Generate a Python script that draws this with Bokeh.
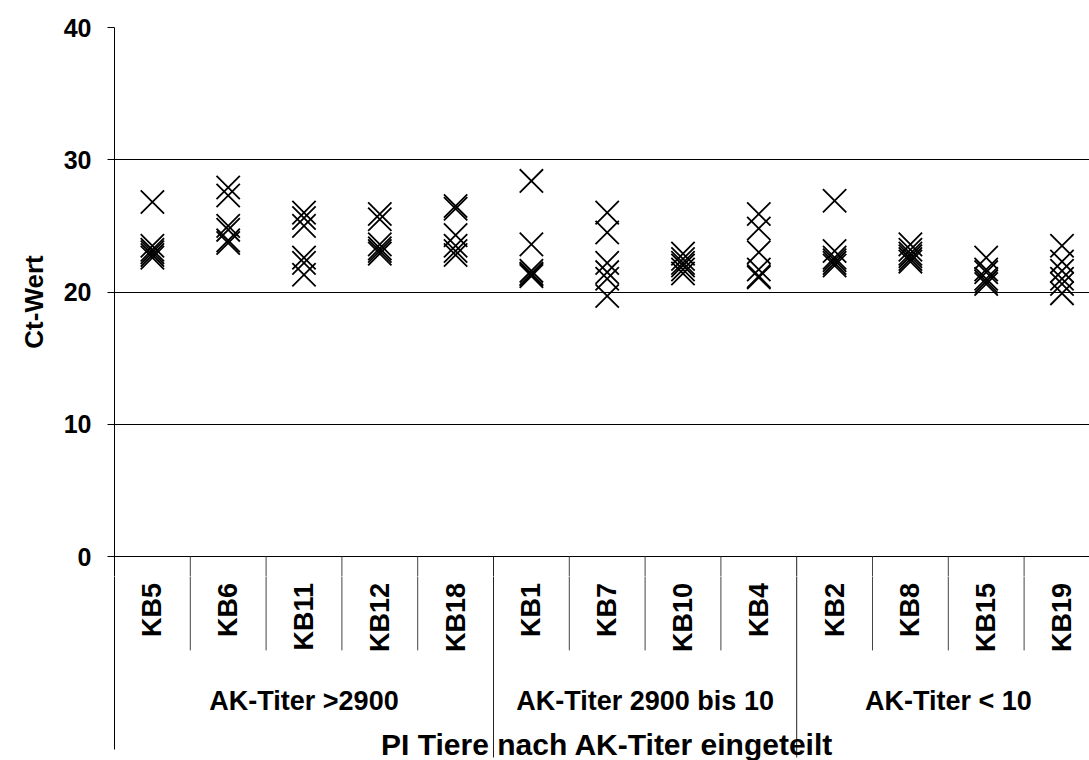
from bokeh.plotting import figure
from bokeh.layouts import column
from bokeh.models import Range1d, FixedTicker, ColumnDataSource
from bokeh.core.properties import value
from bokeh.embed import file_html
from bokeh.resources import INLINE

categories = ["KB5", "KB6", "KB11", "KB12", "KB18", "KB1", "KB7", "KB10", "KB4",
              "KB2", "KB8", "KB15", "KB19"]
groups = ["AK-Titer >2900", "AK-Titer 2900 bis 10", "AK-Titer < 10"]
group_sizes = [5, 4, 4]
y_ticks = [0, 10, 20, 30, 40]
x_title = "PI Tiere nach AK-Titer eingeteilt"
y_title = "Ct-Wert"

ct_KB5 = [26.8, 23.5, 23.2, 23.0, 22.8, 22.6]
ct_KB6 = [27.9, 27.3, 25.0, 24.7, 23.9, 23.7]
ct_KB11 = [26.0, 25.6, 25.0, 22.6, 22.2, 21.3]
ct_KB12 = [25.9, 25.5, 23.6, 23.3, 23.1, 22.9]
ct_KB18 = [26.5, 26.3, 24.3, 23.5, 23.1, 22.8]
ct_KB1 = [28.4, 23.6, 21.6, 21.4, 21.3, 21.2]
ct_KB7 = [26.0, 24.5, 22.2, 21.5, 21.0, 19.7]
ct_KB10 = [22.9, 22.5, 22.2, 22.0, 21.7, 21.4]
ct_KB4 = [25.9, 24.8, 23.0, 21.7, 21.2, 21.1]
ct_KB2 = [26.9, 23.1, 22.6, 22.4, 22.2, 22.0]
ct_KB8 = [23.6, 23.2, 22.9, 22.7, 22.5, 22.3]
ct_KB15 = [22.6, 21.7, 21.5, 21.0, 20.8, 20.6]
ct_KB19 = [23.5, 22.3, 21.6, 21.0, 20.6, 19.9]

values = [ct_KB5, ct_KB6, ct_KB11, ct_KB12, ct_KB18, ct_KB1, ct_KB7, ct_KB10,
          ct_KB4, ct_KB2, ct_KB8, ct_KB15, ct_KB19]

FONT = value("Liberation Sans")

xs, ys = [], []
for i, vals in enumerate(values):
    for v in vals:
        xs.append(i)
        ys.append(v)
src = ColumnDataSource(dict(x=xs, y=ys))

px_per_cat = 75.8
px_per_unit = 529 / 40.0
frame_w = 1089 - 114
x_range = Range1d(-0.5, -0.5 + frame_w / px_per_cat)

n = len(categories)
bounds = []
acc = 0
for s in group_sizes:
    acc += s
    bounds.append(acc)
short_x = [i + 0.5 for i in range(n - 1) if (i + 1) not in bounds]
long_x = [b - 0.5 for b in bounds[:-1]]


def draw_dividers(fig):
    fig.segment(x0=short_x, y0=[0] * len(short_x), x1=short_x,
                y1=[-7.1] * len(short_x), line_color="#444444", line_width=1)
    fig.segment(x0=long_x, y0=[0] * len(long_x), x1=long_x,
                y1=[-15.2] * len(long_x), line_color="#222222", line_width=1)


# ---------------- upper panel: values ----------------
top_h = 576
p = figure(width=1089, height=top_h, output_backend="svg", toolbar_location=None,
           x_range=x_range, y_range=Range1d(-(top_h - 556) / px_per_unit, 40),
           min_border_left=114, min_border_right=0, min_border_top=27,
           min_border_bottom=0, x_axis_location=None)
p.outline_line_color = None
p.background_fill_color = "white"
p.border_fill_color = "white"
p.xgrid.grid_line_color = None
p.ygrid.ticker = FixedTicker(ticks=y_ticks)
p.ygrid.grid_line_color = "black"
p.ygrid.grid_line_width = 1

ya = p.yaxis[0]
ya.ticker = FixedTicker(ticks=y_ticks)
ya.minor_tick_line_color = None
ya.major_tick_in = 0
ya.major_tick_out = 7
ya.major_tick_line_color = "black"
ya.axis_line_color = "black"
ya.major_label_text_font = "Liberation Sans"
ya.major_label_text_font_style = "bold"
ya.major_label_text_font_size = "25px"
ya.major_label_text_color = "black"
ya.major_label_standoff = 16
ya.axis_label = y_title
ya.axis_label_text_font = "Liberation Sans"
ya.axis_label_text_font_style = "bold"
ya.axis_label_text_font_size = "26px"
ya.axis_label_text_color = "black"
ya.axis_label_standoff = 12

draw_dividers(p)
p.scatter("x", "y", source=src, marker="x", size=33, line_color="black",
          line_width=1.8)

# ---------------- lower panel: category band ----------------
bot_h = 760 - top_h
q = figure(width=1089, height=bot_h, output_backend="svg", toolbar_location=None,
           x_range=x_range,
           y_range=Range1d(-(760 - 556) / px_per_unit, -(top_h - 556) / px_per_unit),
           min_border_left=114, min_border_right=0, min_border_top=0,
           min_border_bottom=0, x_axis_location=None)
q.outline_line_color = None
q.background_fill_color = "white"
q.border_fill_color = "white"
q.grid.grid_line_color = None
qa = q.yaxis[0]
qa.ticker = FixedTicker(ticks=[])
qa.minor_tick_line_color = None
qa.major_tick_line_color = None
qa.major_label_text_font_size = "0px"
qa.axis_line_color = "black"
qa.bounds = (-(749 - 556) / px_per_unit, 0)

draw_dividers(q)

q.text(x=list(range(n)), y=[-2.0] * n, text=categories, angle=1.5708,
       text_align="right", text_baseline="middle", text_font=FONT,
       text_font_style="bold", text_font_size="27px", text_color="black")

gx = []
start = 0
for s in group_sizes:
    gx.append(start + (s - 1) / 2)
    start += s
q.text(x=gx, y=[-10.94] * len(gx), text=groups, text_align="center",
       text_baseline="alphabetic", text_font=FONT, text_font_style="bold",
       text_font_size="27px", text_color="black")

q.text(x=[(n - 1) / 2], y=[-(744 - 556) / px_per_unit], text=[x_title],
       text_align="center", text_baseline="alphabetic", text_font=FONT,
       text_font_style="bold", text_font_size="30px", text_color="black")

layout = column(p, q, spacing=0)
open("out.html", "w").write(file_html(layout, INLINE))
